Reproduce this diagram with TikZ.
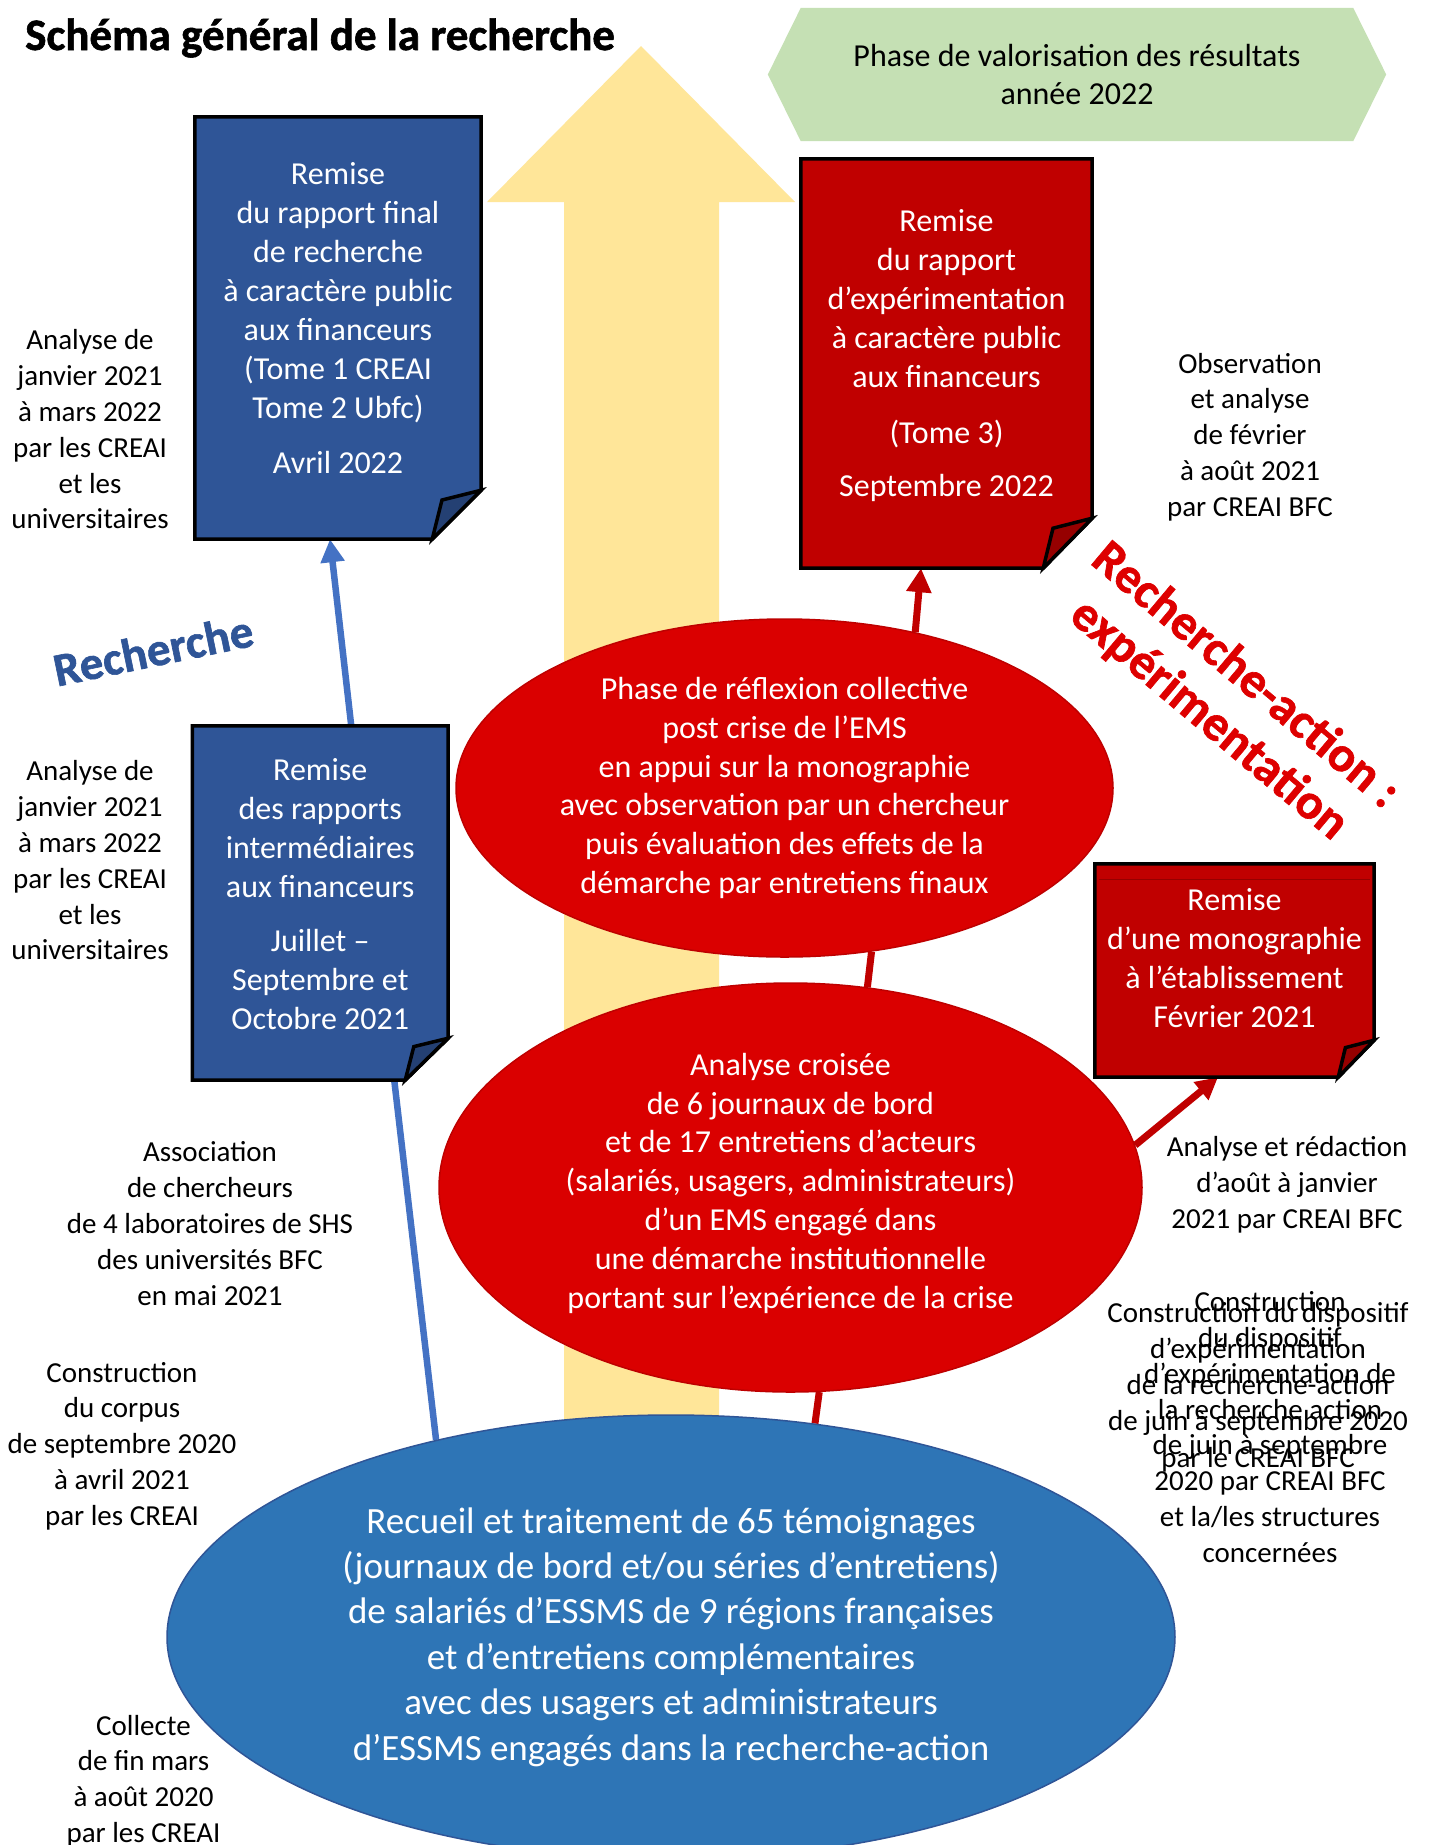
\documentclass[tikz,border=0pt]{standalone}
\usepackage{fontspec}
\setmainfont{Carlito}
\newfontfamily\heavyfont[FakeBold=1.3]{Carlito Bold}
\usetikzlibrary{shapes.geometric,arrows.meta}
\definecolor{boxblue}{RGB}{47,85,151}
\definecolor{flapblue}{RGB}{36,64,115}
\definecolor{boxred}{RGB}{192,0,0}
\definecolor{flapred}{RGB}{150,0,0}
\definecolor{ellredfill}{RGB}{218,0,0}
\definecolor{ellredline}{RGB}{190,0,0}
\definecolor{ellbluefill}{RGB}{46,117,182}
\definecolor{ellblueline}{RGB}{47,85,151}
\definecolor{arrowyellow}{RGB}{255,230,153}
\definecolor{hexgreen}{RGB}{197,224,180}
\definecolor{lineblue}{RGB}{68,114,196}
\definecolor{linered}{RGB}{192,0,0}
\definecolor{textred}{RGB}{222,0,0}
\definecolor{textblue}{RGB}{47,85,151}
\pgfdeclarelayer{back}
\pgfdeclarelayer{lines}
\pgfdeclarelayer{shapes}
\pgfsetlayers{back,lines,shapes,main}
\newcommand\mkfoldbox[5]{%
  \begin{pgfonlayer}{shapes}
    \draw[boxline, fill=#2] (#1.north west) -- (#1.north east) -- ([yshift=#5]#1.south east) -- ([xshift=-#4]#1.south east) -- (#1.south west) -- cycle;
    \draw[boxline, fill=#3] ([yshift=#5]#1.south east) -- ([xshift=-0.8*#4, yshift=0.8*#5]#1.south east) -- ([xshift=-#4]#1.south east) -- cycle;
  \end{pgfonlayer}}
\begin{document}
\begin{tikzpicture}[x=1pt,y=-1pt,
  boxline/.style={draw=black, line width=3.5pt, line join=miter},
  docbox/.style={inner sep=0, align=center, text=white, font=\fontsize{32}{39}\selectfont},
  redell/.style={ellipse, fill=ellredfill, draw=ellredline, line width=1.5pt, inner sep=0, align=center, text=white, font=\fontsize{32}{38.8}\selectfont},
  blueell/.style={ellipse, fill=ellbluefill, draw=ellblueline, line width=1.5pt, inner sep=0, align=center, text=white, font=\fontsize{37}{45.4}\selectfont},
  sidetext/.style={inner sep=0, align=center, font=\fontsize{29}{35.8}\selectfont},
  blueline/.style={draw=lineblue, line width=6.5pt},
  redline/.style={draw=linered, line width=7pt}]
\useasboundingbox (0,0) rectangle (1430,1845);
\begin{pgfonlayer}{back}
  \fill[white] (0,0) rectangle (1430,1845);
  \fill[arrowyellow] (564,1480) -- (564,202) -- (487,202) -- (641,46) -- (795,202) -- (719,202) -- (719,1480) -- cycle;
\end{pgfonlayer}

% title
\node[anchor=base west, inner sep=0, font=\fontsize{45}{54}\heavyfont] (title) at (25,50) {Schéma général de la recherche};

% green hexagon
\node[inner sep=0, align=center, font=\fontsize{32}{38}\selectfont, minimum width=618pt, minimum height=133pt] (hex) at (1077,74.5) {Phase de valorisation des résultats\\année 2022};
\begin{pgfonlayer}{shapes}
  \fill[hexgreen] (hex.west) -- ([xshift=33pt]hex.north west) -- ([xshift=-33pt]hex.north east) -- (hex.east) -- ([xshift=-33pt]hex.south east) -- ([xshift=33pt]hex.south west) -- cycle;
\end{pgfonlayer}

% document boxes
\node[docbox, minimum width=286pt, minimum height=422pt] (b1) at (338,328) {Remise\\du rapport final\\de recherche\\à caractère public\\aux financeurs\\(Tome 1 CREAI\\Tome 2 Ubfc)\\[16pt]Avril 2022\rule[-20pt]{0pt}{20pt}};
\node[docbox, minimum width=291pt, minimum height=409pt] (rb1) at (946.5,363.5) {Remise\\du rapport\\d’expérimentation\\à caractère public\\aux financeurs\\[16.5pt](Tome 3)\\[14pt]Septembre 2022\rule[-21pt]{0pt}{21pt}};
\node[docbox, minimum width=255.5pt, minimum height=354pt] (b2) at (320.25,903) {Remise\\des rapports\\intermédiaires\\aux financeurs\\[15pt]Juillet –\\Septembre et\\Octobre 2021\rule[-18.6pt]{0pt}{18.6pt}};
\node[docbox, minimum width=279pt, minimum height=213pt] (rb3) at (1234.5,970.5) {Remise\\d’une monographie\\à l’établissement\\Février 2021\rule[-25pt]{0pt}{25pt}};
\mkfoldbox{b1}{boxblue}{flapblue}{49pt}{49pt}
\mkfoldbox{b2}{boxblue}{flapblue}{43pt}{42pt}
\mkfoldbox{rb1}{boxred}{flapred}{49pt}{50pt}
\mkfoldbox{rb3}{boxred}{flapred}{36pt}{37pt}
\begin{pgfonlayer}{shapes}
  \draw[flapred, line width=1pt] ([xshift=4pt,yshift=-16pt]rb3.north west) -- ([xshift=-4pt,yshift=-16pt]rb3.north east);
\end{pgfonlayer}

% ellipses
\node[redell, minimum width=657pt, minimum height=338pt] (e1) at (784.5,788) {Phase de réflexion collective\\post crise de l’EMS\\en appui sur la monographie\\avec observation par un chercheur\\puis évaluation des effets de la\\démarche par entretiens finaux};
\node[redell, minimum width=703pt, minimum height=409pt] (e2) at (790.5,1187.5) {Analyse croisée\\de 6 journaux de bord\\et de 17 entretiens d’acteurs\\(salariés, usagers, administrateurs)\\d’un EMS engagé dans\\une démarche institutionnelle\\portant sur l’expérience de la crise\rule[-14pt]{0pt}{14pt}};
\node[blueell, minimum width=1008pt, minimum height=444pt] (be) at (671,1637) {Recueil et traitement de 65 témoignages\\(journaux de bord et/ou séries d’entretiens)\\de salariés d’ESSMS de 9 régions françaises\\et d’entretiens complémentaires\\avec des usagers et administrateurs\\d’ESSMS engagés dans la recherche-action};

% connectors
\begin{pgfonlayer}{lines}
  \draw[blueline] (be.140) -- ([xshift=74pt]b2.south);
  \draw[blueline, -{Triangle[length=23pt,width=23pt]}] ([xshift=31pt]b2.north) -- ([xshift=-8pt]b1.south);
  \draw[redline] (be.56) -- (e2.278);
  \draw[redline] (e2.69) -- (e1.298);
  \draw[redline, -{Triangle[length=24pt,width=24pt]}] (e1.50) -- ([xshift=-25.5pt]rb1.south);
  \draw[redline, -{Triangle[length=22pt,width=22pt]}] (e2.7) -- ([xshift=-16.5pt]rb3.south);
\end{pgfonlayer}

% rotated labels
\node[rotate=11.7, anchor=base, inner sep=0, text=textblue, font=\fontsize{47}{56}\heavyfont] (rech) at (156.5,666) {Recherche};
\node[rotate=-40, inner sep=0, align=center, text=textred, font=\fontsize{50}{57}\heavyfont] (ra) at (1227,698) {Recherche-action :\\expérimentation};

% side texts
\node[sidetext] (t1) at (90,429.4) {Analyse de\\janvier 2021\\à mars 2022\\par les CREAI\\et les\\universitaires};
\node[sidetext] (t2) at (90,860.4) {Analyse de\\janvier 2021\\à mars 2022\\par les CREAI\\et les\\universitaires};
\node[sidetext] (t3) at (210,1223.5) {Association\\de chercheurs\\de 4 laboratoires de SHS\\des universités BFC\\en mai 2021};
\node[sidetext] (t4) at (122,1446) {Construction\\du corpus\\de septembre 2020\\à avril 2021\\par les CREAI};
\node[sidetext] (t5) at (143.5,1781) {Collecte\\de fin mars\\à août 2020\\par les CREAI};
\node[sidetext] (t6) at (1250,437) {Observation\\et analyse\\de février\\à août 2021\\par CREAI BFC};
\node[sidetext] (t7) at (1287,1185) {Analyse et rédaction\\d’août à janvier\\2021 par CREAI BFC};
\node[sidetext] (t8) at (1270,1427) {Construction\\du dispositif\\d’expérimentation de\\la recherche action\\de juin à septembre\\2020 par CREAI BFC\\et la/les structures\\concernées};
\node[sidetext, font=\fontsize{29}{36.2}\selectfont] (t9) at (1258,1387) {Construction du dispositif\\d'expérimentation\\de la recherche-action\\de juin à septembre 2020\\par le CREAI BFC};
\end{tikzpicture}
\end{document}
